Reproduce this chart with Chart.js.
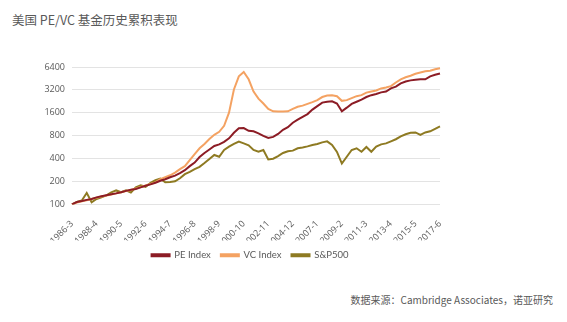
<!DOCTYPE html>
<html>
<head>
<meta charset="utf-8">
<script src="https://cdn.jsdelivr.net/npm/chart.js@4.4.1/dist/chart.umd.min.js"></script>
<style>
    html, body { margin: 0; padding: 0; background: #ffffff; }
    #wrap { position: relative; width: 567px; height: 322px; overflow: hidden; }
    #title {
        position: absolute; left: 12px; top: 10px;
        font-family: "Noto Sans CJK SC", "Open Sans", sans-serif;
        font-size: 12.5px; color: #595959;
    }
    #source {
        position: absolute; right: 14px; top: 292px;
        font-family: "Noto Sans CJK SC", "Open Sans", sans-serif;
        font-size: 10px; color: #595959;
    }
    #chartBox { position: absolute; left: 0; top: 0; width: 510px; height: 270px; }
</style>
</head>
<body>
<div id="wrap">
    <div id="title">美国 PE/VC 基金历史累积表现</div>
    <div id="chartBox"><canvas id="myChart" width="510" height="270"></canvas></div>
    <div id="source">数据来源：Cambridge Associates，诺亚研究</div>
</div>
<script>
// Cumulative index, 1986-3 = 100, one point every 5 months
const periods = [
    "1986-3", "1986-8", "1987-1", "1987-6", "1987-11", "1988-4", "1988-9", "1989-2", "1989-7", "1989-12",
    "1990-5", "1990-10", "1991-3", "1991-8", "1992-1", "1992-6", "1992-11", "1993-4", "1993-9", "1994-2",
    "1994-7", "1994-12", "1995-5", "1995-10", "1996-3", "1996-8", "1997-1", "1997-6", "1997-11", "1998-4",
    "1998-9", "1999-2", "1999-7", "1999-12", "2000-5", "2000-10", "2001-3", "2001-8", "2002-1", "2002-6",
    "2002-11", "2003-4", "2003-9", "2004-2", "2004-7", "2004-12", "2005-5", "2005-10", "2006-3", "2006-8",
    "2007-1", "2007-6", "2007-11", "2008-4", "2008-9", "2009-2", "2009-7", "2009-12", "2010-5", "2010-10",
    "2011-3", "2011-8", "2012-1", "2012-6", "2012-11", "2013-4", "2013-9", "2014-2", "2014-7", "2014-12",
    "2015-5", "2015-10", "2016-3", "2016-8", "2017-1", "2017-6"
];

const peIndex = [
    100, 108, 111, 115, 118, 124, 128, 132, 136, 140,
    145, 151, 156, 160, 168, 176, 184, 193, 205, 215,
    228, 239, 258, 282, 319, 355, 420, 475, 528, 587,
    617, 664, 740, 874, 1003, 1009, 930, 915, 860, 798,
    750, 773, 846, 958, 1035, 1185, 1300, 1420, 1540, 1764,
    1960, 2180, 2240, 2270, 2120, 1680, 1870, 2100, 2240, 2390,
    2580, 2730, 2830, 2970, 3050, 3350, 3530, 3900, 4130, 4270,
    4350, 4410, 4410, 4830, 5070, 5270
];

const vcIndex = [
    100, 106, 110, 114, 118, 123, 127, 131, 135, 140,
    145, 150, 155, 162, 170, 178, 186, 195, 215, 228,
    242, 262, 291, 319, 383, 460, 548, 624, 725, 822,
    900, 1080, 1610, 3240, 4830, 5510, 4410, 3050, 2460, 2120,
    1800, 1675, 1660, 1660, 1675, 1800, 1920, 1990, 2100, 2210,
    2350, 2580, 2700, 2730, 2650, 2300, 2350, 2500, 2650, 2730,
    2950, 3050, 3150, 3350, 3440, 3590, 4000, 4410, 4690, 4920,
    5210, 5410, 5620, 5720, 5980, 6170
];

const sp500 = [
    100, 108, 113, 142, 107, 118, 124, 132, 144, 153,
    145, 153, 144, 168, 179, 171, 193, 208, 219, 196,
    198, 202, 221, 250, 268, 291, 312, 350, 395, 447,
    424, 520, 575, 624, 670, 635, 600, 520, 493, 520,
    390, 400, 432, 475, 500, 510, 548, 560, 580, 606,
    624, 655, 675, 606, 490, 345, 424, 520, 548, 493,
    570, 493, 575, 617, 635, 675, 720, 785, 836, 874,
    885, 822, 885, 915, 986, 1060
];

const yTicks = [100, 200, 400, 800, 1600, 3200, 6400];

const seriesList = [
    { label: "PE Index", data: peIndex, color: "#8c1c25", width: 2 },
    { label: "VC Index", data: vcIndex, color: "#f4a262", width: 2 },
    { label: "S&P500", data: sp500, color: "#8e7a22", width: 2 },
];

const tickFont = { family: "'Open Sans', 'Noto Sans CJK SC', sans-serif", size: 9 };

const ctx = document.getElementById("myChart").getContext("2d");

new Chart(ctx, {
    type: "line",
    data: {
        labels: periods,
        datasets: seriesList.map((s) => ({
            label: s.label,
            data: s.data,
            borderColor: s.color,
            backgroundColor: s.color,
            borderWidth: s.width,
            pointRadius: 0,
            tension: 0,
            fill: false,
        })),
    },
    options: {
        responsive: false,
        animation: false,
        layout: {
            padding: { left: 0, right: 10, top: 67, bottom: 0 },
        },
        plugins: {
            tooltip: { enabled: false },
            legend: {
                position: "bottom",
                labels: {
                    boxWidth: 18,
                    boxHeight: 2,
                    padding: 10,
                    color: "#595959",
                    font: { family: "Lato, 'Open Sans', sans-serif", size: 9.5 },
                },
            },
        },
        scales: {
            x: {
                grid: { display: false },
                border: { display: false },
                ticks: {
                    autoSkip: false,
                    maxRotation: 45,
                    minRotation: 45,
                    padding: 6,
                    color: "#595959",
                    font: tickFont,
                    callback: function (value, index) {
                        return index % 5 === 0 ? periods[index] : "";
                    },
                },
                afterFit: function (scale) {
                    scale.height = 36;
                },
            },
            y: {
                type: "logarithmic",
                min: 100,
                max: 6400,
                grid: { color: "#e3e3e3", lineWidth: 1, drawTicks: false },
                border: { display: false },
                ticks: {
                    padding: 7,
                    color: "#595959",
                    font: tickFont,
                    callback: function (value) {
                        return String(value);
                    },
                },
                afterBuildTicks: function (scale) {
                    scale.ticks = yTicks.map((v) => ({ value: v }));
                },
                afterFit: function (scale) {
                    scale.width = 72;
                },
            },
            // empty right-hand axis, only reserves space so the legend stays centred below
            spacer: {
                type: "linear",
                position: "right",
                grid: { display: false },
                border: { display: false },
                ticks: { display: false },
                afterFit: function (scale) {
                    scale.width = 60;
                },
            },
        },
    },
});
</script>
</body>
</html>
